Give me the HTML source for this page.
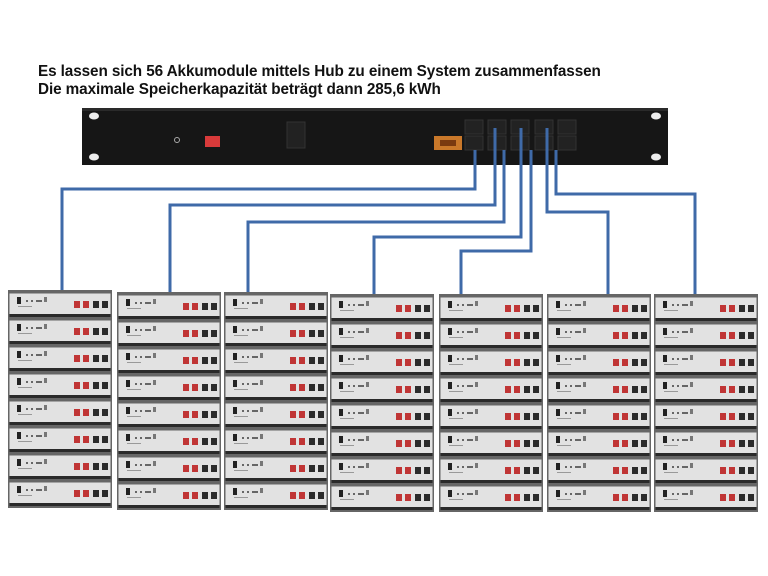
<!DOCTYPE html>
<html><head><meta charset="utf-8"><style>
html,body{margin:0;padding:0;background:#fff;}
body{width:768px;height:576px;overflow:hidden;position:relative;font-family:"Liberation Sans",sans-serif;}
.t{position:absolute;left:38px;font-weight:bold;font-size:15.3px;color:#111;letter-spacing:-0.1px}
</style></head><body>
<div class="t" style="top:63px">Es lassen sich 56 Akkumodule mittels Hub zu einem System zusammenfassen</div>
<div class="t" style="top:81px">Die maximale Speicherkapazität beträgt dann 285,6 kWh</div>
<svg width="768" height="576" style="position:absolute;left:0;top:0">
<defs>
<g id="m">
<rect x="0" y="0" width="104" height="27" fill="#666"/>
<rect x="1.5" y="1.5" width="101" height="20.5" fill="#e2e2e2"/>
<rect x="1.5" y="22" width="101" height="3" fill="#2a2a2a"/>
<rect x="9" y="5" width="4" height="7" fill="#222"/>
<rect x="18" y="8" width="2" height="2" fill="#666"/>
<rect x="23" y="8" width="2" height="2" fill="#666"/>
<rect x="28" y="8" width="6" height="2" fill="#666"/>
<rect x="36" y="5" width="3" height="5" fill="#777"/>
<rect x="10" y="14" width="14" height="1" fill="#999"/>
<rect x="66" y="9" width="6" height="7" fill="#c03535"/>
<rect x="75" y="9" width="6" height="7" fill="#c03535"/>
<rect x="85" y="9" width="6" height="7" fill="#2b2b2b"/>
<rect x="94" y="9" width="6" height="7" fill="#2b2b2b"/>
</g>
<g id="c">
<rect x="0" y="-2" width="104" height="3" fill="#666"/>
<use href="#m" y="0"/><use href="#m" y="27"/><use href="#m" y="54"/><use href="#m" y="81"/>
<use href="#m" y="108"/><use href="#m" y="135"/><use href="#m" y="162"/><use href="#m" y="189"/>
</g>
</defs>
<rect x="82" y="108" width="586" height="57" fill="#161616"/>
<rect x="82" y="108" width="586" height="3" fill="#2a2a2a"/>
<ellipse cx="94" cy="116" rx="5" ry="3.5" fill="#eee"/>
<ellipse cx="94" cy="157" rx="5" ry="3.5" fill="#eee"/>
<ellipse cx="656" cy="116" rx="5" ry="3.5" fill="#eee"/>
<ellipse cx="656" cy="157" rx="5" ry="3.5" fill="#eee"/>
<circle cx="177" cy="140" r="2.5" fill="none" stroke="#aaa"/>
<rect x="205" y="136" width="15" height="11" fill="#d83a3a"/>
<rect x="287" y="122" width="18" height="26" fill="#222" stroke="#333"/>
<rect x="434" y="136" width="28" height="14" fill="#c9782a"/>
<rect x="440" y="140" width="16" height="6" fill="#7a3a10"/>
<g fill="#222" stroke="#333">
<rect x="465" y="120" width="18" height="14"/><rect x="465" y="136" width="18" height="14"/>
<rect x="488" y="120" width="18" height="14"/><rect x="488" y="136" width="18" height="14"/>
<rect x="511" y="120" width="18" height="14"/><rect x="511" y="136" width="18" height="14"/>
<rect x="535" y="120" width="18" height="14"/><rect x="535" y="136" width="18" height="14"/>
<rect x="558" y="120" width="18" height="14"/><rect x="558" y="136" width="18" height="14"/>
</g>
<g fill="none" stroke="#3f6aa8" stroke-width="3">
<polyline points="475,150 475,189 62,189 62,290"/>
<polyline points="495,128 495,205 170,205 170,292"/>
<polyline points="504,150 504,222 248,222 248,292"/>
<polyline points="521,128 521,237 374,237 374,294"/>
<polyline points="531,150 531,251 461,251 461,294"/>
<polyline points="547,128 547,212 608,212 608,294"/>
<polyline points="556,150 556,194 695,194 695,294"/>
</g>
<use href="#c" x="8" y="292"/>
<use href="#c" x="117" y="294"/>
<use href="#c" x="224" y="294"/>
<use href="#c" x="330" y="296"/>
<use href="#c" x="439" y="296"/>
<use href="#c" x="547" y="296"/>
<use href="#c" x="654" y="296"/>
</svg>
</body></html>
